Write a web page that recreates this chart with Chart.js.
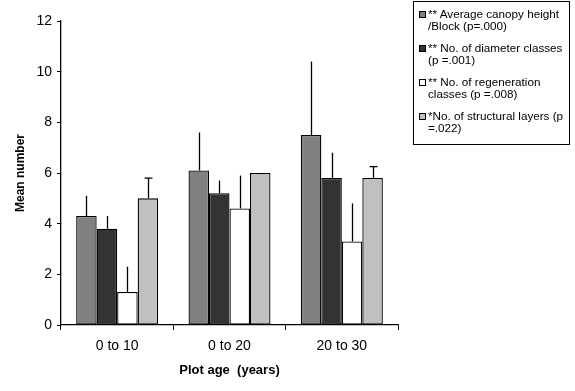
<!DOCTYPE html>
<html>
<head>
<meta charset="utf-8">
<script src="https://cdn.jsdelivr.net/npm/chart.js@4/dist/chart.umd.min.js"></script>
<style>
  html, body { margin: 0; padding: 0; background: #fff; }
  #wrap { position: relative; width: 575px; height: 391px; }
  #legend {
    position: absolute; left: 413px; top: 1px; width: 157px; height: 144px;
    border: 1px solid #000; box-sizing: border-box;
    font: 11.7px "Liberation Sans", Arial, sans-serif; color: #000;
  }
  #legend .item { position: absolute; left: 5px; line-height: 12px; padding-left: 9px; white-space: nowrap; }
  #legend .sw {
    position: absolute; left: 0; top: 3px; width: 7px; height: 7px;
    border: 1px solid #000; box-sizing: border-box;
  }
</style>
</head>
<body>
<div id="wrap">
  <canvas id="chart" width="575" height="391"></canvas>
  <div id="legend"></div>
</div>
<script>
// plot age classes
const categories = ["0 to 10", "0 to 20", "20 to 30"];

// means
const canopyHeight = [4.3, 6.1, 7.5];
const diameterClasses = [3.8, 5.2, 5.8];
const regenClasses = [1.3, 4.6, 3.3];
const structLayers = [5.0, 6.0, 5.8];

// upper error (added on top of the mean)
const canopyErr = [0.8, 1.5, 2.9];
const diameterErr = [0.5, 0.5, 1.0];
const regenErr = [1.0, 1.3, 1.5];
const layersErr = [0.8, 0.0, 0.45];

const yTicks = [0, 2, 4, 6, 8, 10, 12];

const seriesLabels = [
  ["** Average canopy height", "/Block (p=.000)"],
  ["** No. of diameter classes", "(p =.001)"],
  ["** No. of regeneration", "classes (p =.008)"],
  ["*No. of structural layers (p", "=.022)"]
];
const seriesColors = ["#808080", "#333333", "#ffffff", "#c0c0c0"];
const seriesValues = [canopyHeight, diameterClasses, regenClasses, structLayers];
const seriesErrors = [canopyErr, diameterErr, regenErr, layersErr];
const seriesCaps = [false, false, false, true];

const FONT = "'Liberation Sans', Arial, sans-serif";

// error bars drawn above each bar
const errorBars = {
  id: "errorBars",
  afterDatasetsDraw(chart) {
    const ctx = chart.ctx;
    const y = chart.scales.y;
    ctx.save();
    ctx.strokeStyle = "#000";
    ctx.lineWidth = 1.3;
    chart.data.datasets.forEach((ds, i) => {
      const meta = chart.getDatasetMeta(i);
      meta.data.forEach((bar, j) => {
        const err = ds.errors[j];
        if (!err) return;
        const top = y.getPixelForValue(ds.data[j] + err);
        const x = Math.round(bar.x) + 0.5;
        ctx.beginPath();
        ctx.moveTo(x, bar.y);
        ctx.lineTo(x, top);
        if (ds.cap) {
          ctx.moveTo(x - 4, top);
          ctx.lineTo(x + 4, top);
        }
        ctx.stroke();
      });
    });
    ctx.restore();
  }
};

const datasets = seriesValues.map((vals, i) => ({
  label: seriesLabels[i].join(" "),
  data: vals,
  errors: seriesErrors[i],
  cap: seriesCaps[i],
  backgroundColor: seriesColors[i],
  borderColor: "#000",
  borderWidth: 1.3,
  borderSkipped: false,
  categoryPercentage: 0.73,
  barPercentage: 1.0
}));

new Chart(document.getElementById("chart"), {
  type: "bar",
  data: { labels: categories, datasets: datasets },
  plugins: [errorBars],
  options: {
    responsive: false,
    animation: false,
    layout: { padding: { top: 21, right: 177, left: 0, bottom: 0 } },
    plugins: { legend: { display: false }, tooltip: { enabled: false } },
    scales: {
      x: {
        grid: { display: true, drawOnChartArea: false, offset: true, color: "#000", tickLength: 5, lineWidth: 1 },
        border: { color: "#000", width: 1.3 },
        ticks: { color: "#000", font: { family: FONT, size: 14 }, padding: 8 },
        title: {
          display: true, text: "Plot age  (years)", color: "#000",
          font: { family: FONT, size: 13, weight: "bold" }, padding: { top: 0, bottom: 13 }
        },
        afterFit(scale) { scale.height = 66; }
      },
      y: {
        min: 0, max: 12,
        afterBuildTicks(scale) { scale.ticks = yTicks.map(v => ({ value: v })); },
        grid: { display: true, drawOnChartArea: false, color: "#000", tickLength: 4 },
        border: { color: "#000", width: 1.3 },
        ticks: { color: "#000", font: { family: FONT, size: 14 }, padding: 5 },
        title: {
          display: true, text: "Mean number", color: "#000",
          font: { family: FONT, size: 12, weight: "bold" }, padding: { top: 13, bottom: 0 }
        },
        afterFit(scale) { scale.width = 61; }
      }
    }
  }
});

// legend box
const legendEl = document.getElementById("legend");
const itemTops = [6, 40, 74, 108];
seriesLabels.forEach((lines, i) => {
  const item = document.createElement("div");
  item.className = "item";
  item.style.top = itemTops[i] + "px";
  const sw = document.createElement("span");
  sw.className = "sw";
  sw.style.background = seriesColors[i];
  item.appendChild(sw);
  item.appendChild(document.createTextNode(lines[0]));
  item.appendChild(document.createElement("br"));
  item.appendChild(document.createTextNode(lines[1]));
  legendEl.appendChild(item);
});
</script>
</body>
</html>
